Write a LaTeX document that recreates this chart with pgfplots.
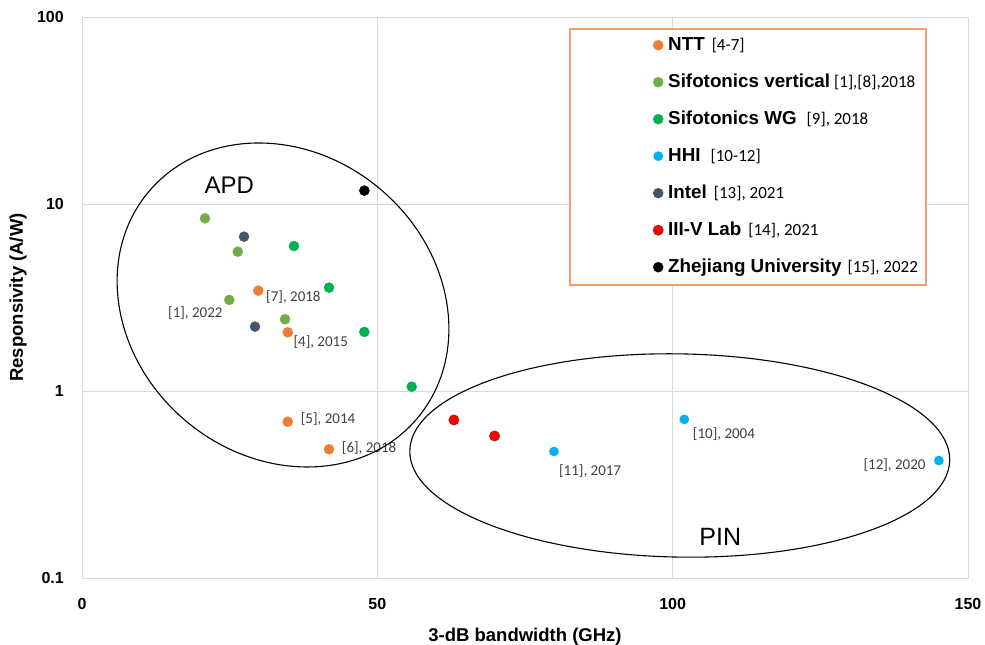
\documentclass[border=0pt]{standalone}
\usepackage{fontspec}
\setmainfont{Liberation Sans}
\newfontfamily\calib{Carlito}
\usepackage{pgfplots}
\pgfplotsset{compat=1.18}
\definecolor{ntt}{HTML}{ED7D31}
\definecolor{sifov}{HTML}{70AD47}
\definecolor{sifowg}{HTML}{00B050}
\definecolor{hhi}{HTML}{00B0F0}
\definecolor{intel}{HTML}{44546A}
\definecolor{iiiv}{HTML}{FF0000}
\definecolor{iiivb}{HTML}{B02020}
\definecolor{zju}{HTML}{000000}
\definecolor{gridgray}{HTML}{D9D9D9}
\definecolor{legor}{HTML}{F0A070}
\definecolor{labgray}{HTML}{404040}
\pgfplotsset{
  dot/.style={only marks, mark=*, mark size=5pt, color=#1,
    mark options={fill=#1, draw=#1, line width=0.4pt},
    legend image code/.code={\draw[##1] plot coordinates {(0pt,0pt)};}},
}
\tikzset{lab/.style={font=\calib\fontsize{15}{15}\selectfont, text=labgray, inner sep=0pt}}
\begin{document}
\begin{tikzpicture}
\path[use as bounding box] (-82pt,-67pt) rectangle (903pt,578pt);
\begin{axis}[
  at={(0pt,0pt)}, anchor=south west,
  scale only axis, width=886pt, height=561pt,
  xmin=0, xmax=150, ymin=0.1, ymax=100, ymode=log,
  xtick={0,50,100,150}, xticklabels={0,50,100,150},
  ytick={0.1,1,10,100}, yticklabels={0.1,1,10,100},
  major tick length=0pt, minor tick length=0pt,
  tick style={draw=none},
  xmajorgrids, ymajorgrids,
  major grid style={draw=gridgray, line width=0.9pt},
  axis line style={draw=gridgray, line width=0.9pt},
  tick label style={font=\fontsize{16}{16}\selectfont\bfseries},
  xticklabel style={anchor=north, inner sep=0pt, yshift=-20pt},
  yticklabel style={anchor=east, inner sep=0pt, xshift=-18pt},
  xlabel={3-dB bandwidth (GHz)},
  ylabel={Responsivity (A/W)},
  label style={font=\fontsize{18.5}{18.5}\selectfont\bfseries, inner sep=0pt},
  xlabel style={at={([yshift=-63pt]axis description cs:0.5,0)}, anchor=base},
  ylabel style={at={([xshift=-59pt]axis description cs:0,0.5)}, anchor=base},
  legend style={at={(0.6445,0.9786)}, anchor=north west, draw=none, fill=none,
    inner xsep=0pt, inner ysep=8.5pt, row sep=22pt,
    nodes={inner xsep=5pt, inner ysep=0pt, text height=13pt, text depth=2pt},
    font=\fontsize{18.8}{18.8}\selectfont},
  legend cell align=left,
]
\draw[legor, line width=1.5pt, fill=white] (axis description cs:0.5508,0.5223) rectangle (axis description cs:0.9526,0.9786);
\addplot[dot=ntt] coordinates {(29.85,3.44) (34.83,2.06) (34.83,0.685) (41.82,0.488)};
\addlegendentry{\textbf{NTT}\hspace{7pt}{\calib\fontsize{17}{17}\selectfont [4-7]}}
\addplot[dot=sifov] coordinates {(20.82,8.38) (26.36,5.56) (24.94,3.07) (34.37,2.42)};
\addlegendentry{\textbf{Sifotonics vertical}\hspace{4pt}{\calib\fontsize{17}{17}\selectfont [1],[8],2018}}
\addplot[dot=sifowg] coordinates {(35.89,5.96) (41.82,3.57) (47.80,2.07) (55.82,1.055)};
\addlegendentry{\textbf{Sifotonics WG}\hspace{10pt}{\calib\fontsize{17}{17}\selectfont [9], 2018}}
\addplot[dot=hhi, mark size=4.6pt] coordinates {(79.9,0.475) (101.97,0.705) (145.07,0.425)};
\addlegendentry{\textbf{HHI}\hspace{10pt}{\calib\fontsize{17}{17}\selectfont [10-12]}}
\addplot[dot=intel] coordinates {(27.43,6.69) (29.29,2.21)};
\addlegendentry{\textbf{Intel}\hspace{7pt}{\calib\fontsize{17}{17}\selectfont [13], 2021}}
\addplot[dot=iiiv, mark options={fill=iiiv, draw=iiivb, line width=0.9pt}] coordinates {(62.96,0.70) (69.85,0.575)};
\addlegendentry{\textbf{III-V Lab}\hspace{7pt}{\calib\fontsize{17}{17}\selectfont [14], 2021}}
\addplot[dot=zju] coordinates {(47.80,11.79)};
\addlegendentry{\textbf{Zhejiang University}\hspace{6pt}{\calib\fontsize{17}{17}\selectfont [15], 2022}}

\node[lab, anchor=west] at (axis cs:31.15,3.19) {[7], 2018};
\node[lab, anchor=east] at (axis cs:23.82,2.60) {[1], 2022};
\node[lab, anchor=west] at (axis cs:35.78,1.835) {[4], 2015};
\node[lab, anchor=west] at (axis cs:37.02,0.706) {[5], 2014};
\node[lab, anchor=west] at (axis cs:43.97,0.497) {[6], 2018};
\node[lab, anchor=west] at (axis cs:103.4,0.588) {[10], 2004};
\node[lab, anchor=west] at (axis cs:80.74,0.372) {[11], 2017};
\node[lab, anchor=east] at (axis cs:142.84,0.401) {[12], 2020};
\node[font=\fontsize{24}{24}\selectfont, inner sep=0pt] at (axis cs:24.92,12.64) {APD};
\node[font=\fontsize{25}{25}\selectfont, inner sep=0pt] at (axis cs:108.05,0.1665) {PIN};
\coordinate (apdc) at (axis cs:34.03,2.884);
\coordinate (pinc) at (axis cs:101.2,0.452);
\end{axis}
\draw[line width=1.1pt, shift={(apdc)}, rotate=-40.4] (0,0) ellipse [x radius=175.7pt, y radius=151.3pt];
\draw[line width=1.1pt, shift={(pinc)}, rotate=-1] (0,0) ellipse [x radius=270pt, y radius=101.6pt];
\end{tikzpicture}
\end{document}
